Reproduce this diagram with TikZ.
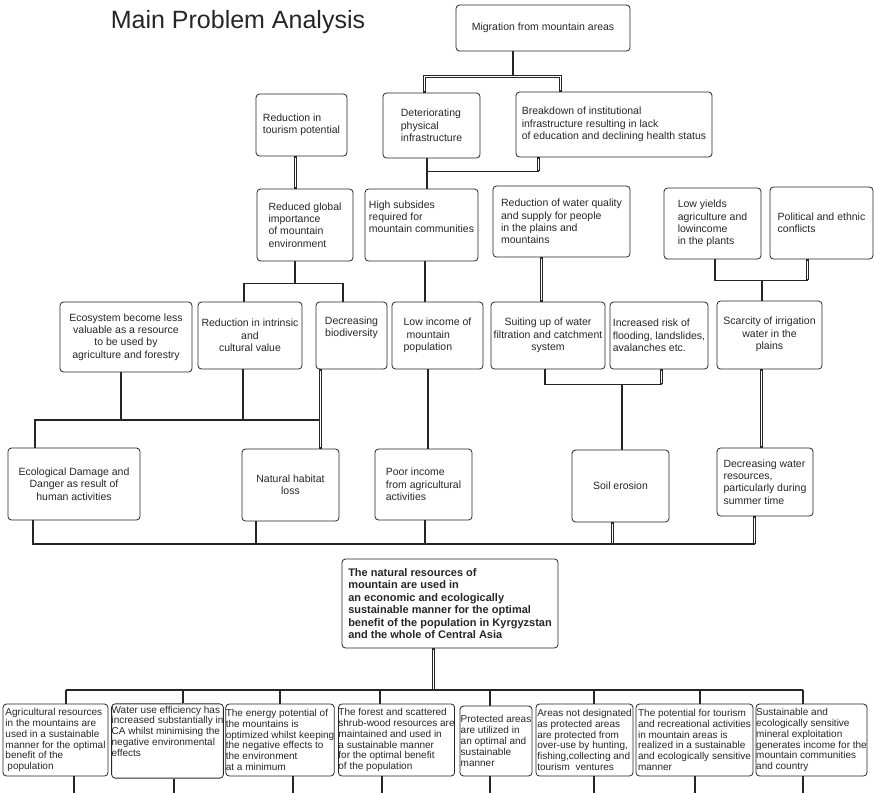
\documentclass[tikz,border=0pt]{standalone}
\usepackage{fontspec}
\setmainfont{Liberation Sans}
\definecolor{ink}{HTML}{262626}
\tikzset{
  box/.style={draw=ink, line width=0.8pt, rounded corners=3.5pt, inner xsep=0pt, inner ysep=2pt,
    text=ink, align=left, font=\fontsize{10.5}{12.3}\selectfont},
  cbox/.style={box, align=center},
  small/.style={box, font=\fontsize{10}{10.8}\selectfont},
  link/.style={draw=ink, line width=1.5pt},
  dbl/.style={draw=ink, line width=3pt,
    postaction={draw=white, line width=1pt, shorten <=1.5pt, shorten >=1.5pt}},
}
\begin{document}
\begin{tikzpicture}[x=1pt, y=-1pt]
\useasboundingbox (0,0) rectangle (874,793);

\node[anchor=base, text=ink, font=\fontsize{25}{28}\selectfont] (title) at (238,28) {Main Problem Analysis};

% problems
\node[box, minimum width=174, minimum height=46] (migr) at (543,28) {Migration from mountain areas};
\node[box, minimum width=91, minimum height=62] (tour) at (301.5,125) {Reduction in\\tourism potential};
\node[box, minimum width=97, minimum height=65] (deter) at (431.5,125.5) {Deteriorating\\physical\\infrastructure};
\node[box, minimum width=196, minimum height=65] (brk) at (614,124.5) {Breakdown of institutional\\infrastructure resulting in lack\\of education and declining health status};
\node[box, minimum width=96, minimum height=72] (redglob) at (305,225) {Reduced global\\importance\\of mountain\\environment};
\node[box, minimum width=113, minimum height=72] (subs) at (421.5,225) {High subsides\\required for\\mountain communities\\[4pt]};
\node[box, minimum width=137, minimum height=71] (water) at (561.5,221.5) {Reduction of water quality\\and supply for people\\in the plains and\\mountains};
\node[box, minimum width=97, minimum height=71] (yields) at (712.5,223.5) {Low yields\\agriculture and\\lowincome\\in the plants};
\node[box, minimum width=103, minimum height=72] (ethnic) at (821.5,223) {Political and ethnic\\conflicts};
\node[cbox, minimum width=132, minimum height=70] (ecosys) at (126,337) {Ecosystem become less\\valuable as a resource\\to be used by\\agriculture and forestry};
\node[cbox, minimum width=104, minimum height=67] (intrin) at (250,335.5) {Reduction in intrinsic\\and\\cultural value};
\node[cbox, minimum width=71, minimum height=67] (biodiv) at (351.5,335.5) {Decreasing\\biodiversity\\[6pt]};
\node[box, minimum width=91, minimum height=67] (lowinc) at (437.5,335.5) {Low income of\\\hspace{3pt}mountain\\population};
\node[cbox, minimum width=114, minimum height=67] (filt) at (548,335.5) {Suiting up of water\\filtration and catchment\\system};
\node[box, minimum width=98, minimum height=67] (flood) at (659,335.5) {Increased risk of\\flooding, landslides,\\avalanches etc.};
\node[cbox, minimum width=105, minimum height=68] (irrig) at (769.5,335) {\\[-6pt]Scarcity of irrigation\\water in the\\plains};
\node[cbox, minimum width=132, minimum height=72] (ecodam) at (74,484) {Ecological Damage and\\Danger as result of\\human activities};
\node[cbox, minimum width=97, minimum height=72] (habitat) at (290.5,485) {Natural habitat\\loss};
\node[box, minimum width=97, minimum height=71] (poor) at (423.5,484.5) {Poor income\\from agricultural\\activities};
\node[cbox, minimum width=97, minimum height=72] (soil) at (620.5,486) {Soil erosion};
\node[box, minimum width=96, minimum height=68] (decw) at (765,482) {Decreasing water\\resources,\\particularly during\\summer time};

% objective
\node[box, minimum width=216, minimum height=89, font=\fontsize{11}{12.4}\selectfont\bfseries] (goal) at (450,603.5)
  {The natural resources of\\mountain are used in\\an economic and ecologically\\sustainable manner for the optimal\\benefit of the population in Kyrgyzstan\\and the whole of Central Asia};

\node[small, minimum width=105, minimum height=72] (agri) at (55.5,740) {Agricultural resources\\in the mountains are\\used in a sustainable\\manner for the optimal\\benefit of the\\\hspace{2pt}population};
\node[small, minimum width=111, minimum height=70] (wuse) at (167.5,741) {Water use efficiency has\\increased substantially in\\CA whilst minimising the\\negative environmental\\effects\\[9pt]};
\node[small, minimum width=108, minimum height=72] (energy) at (280,740) {The energy potential of\\the mountains is\\optimized whilst keeping\\the negative effects to\\the environment\\at a minimum};
\node[small, minimum width=115, minimum height=72] (forest) at (396.5,740) {The forest and scattered\\shrub-wood resources are\\maintained and used in\\a sustainable manner\\for the optimal benefit\\of the population};
\node[small, minimum width=72, minimum height=70] (protect) at (496,741) {Protected areas\\are utilized in\\an optimal and\\sustainable\\manner};
\node[small, minimum width=97, minimum height=72] (nonprot) at (584.5,740) {Areas not designated\\as protected areas\\are protected from\\over-use by hunting,\\fishing,collecting and\\tourism~~ventures};
\node[small, minimum width=117, minimum height=72] (tourism) at (694.5,740) {The potential for tourism\\and recreational activities\\in mountain areas is\\realized in a sustainable\\and ecologically sensitive\\manner};
\node[small, minimum width=111, minimum height=72] (mineral) at (811.5,740) {Sustainable and\\ecologically sensitive\\mineral exploitation\\generates income for the\\mountain communities\\and country};

\coordinate (top) at (0,76.5);
\coordinate (mid) at (0,420);
\coordinate (base) at (0,544);
\coordinate (lvl) at (0,690);
\coordinate (floor) at (0,793);

% upper tree
\draw[link] ([xshift=-30]migr.south) -- ([xshift=-30]migr.south |- top);
\draw[dbl] ([xshift=-7]deter.north) -- ([xshift=-7]deter.north |- top) -| ([xshift=-53.5]brk.north);
\draw[link] ([xshift=-4.5]deter.south) -- ([xshift=-4.5]deter.south |- subs.north);
\draw[dbl] ([xshift=-75.5]brk.south) -- ++(0,14);
\draw[link] ([xshift=-75.5]brk.south) ++(0,14) -- ++(-111.5,0);
\draw[dbl] ([xshift=-6]tour.south) -- ([xshift=-6]tour.south |- redglob.north);
\draw[link] ([xshift=-10]redglob.south) -- ++(0,23);
\draw[link] ([xshift=-6]intrin.north) -- ++(0,-18) -| ([xshift=-8.5]biodiv.north);
\draw[link] ([xshift=3.5]subs.south) -- ([xshift=3.5]subs.south |- lowinc.north);
\draw[dbl] ([xshift=-20]water.south) -- ([xshift=-20]water.south |- filt.north);
\draw[link] ([xshift=2.5]yields.south) -- ++(0,21) -- ++(92.5,0);
\draw[dbl] ([xshift=-14]ethnic.south) -- ++(0,21);
\draw[link] ([xshift=-7.5]irrig.north) -- ++(0,-21);
\draw[link] ([xshift=-3]filt.south) -- ++(0,15) -- ++(116.5,0);
\draw[dbl] ([xshift=2.5]flood.south) -- ++(0,15);
\draw[link] ([xshift=1.5]soil.north) -- ++(0,-66);
\draw[dbl] ([xshift=-8]irrig.south) -- ([xshift=-8]irrig.south |- decw.north);

% left branch
\draw[link] ([xshift=-5]ecosys.south) -- ([xshift=-5]ecosys.south |- mid);
\draw[link] ([xshift=-7]intrin.south) -- ([xshift=-7]intrin.south |- mid);
\draw[link] ([xshift=-39]ecodam.north) -- ([xshift=-39]ecodam.north |- mid) -- ([xshift=-31]biodiv.south |- mid);
\draw[dbl] ([xshift=-31]biodiv.south) -- ([xshift=-31]biodiv.south |- habitat.north);
\draw[link] ([xshift=-9.5]lowinc.south) -- ([xshift=-9.5]lowinc.south |- poor.north);

% base line
\draw[link] ([xshift=-41]ecodam.south) -- ([xshift=-41]ecodam.south |- base) -- ([xshift=-10.5]decw.south |- base);
\draw[link] ([xshift=-34.5]habitat.south) -- ([xshift=-34.5]habitat.south |- base);
\draw[link] ([xshift=1.5]poor.south) -- ([xshift=1.5]poor.south |- base);
\draw[dbl] ([xshift=-8]soil.south) -- ([xshift=-8]soil.south |- base);
\draw[dbl] ([xshift=-10.5]decw.south) -- ([xshift=-10.5]decw.south |- base);

% objective tree
\draw[dbl] ([xshift=-16.5]goal.south) -- ([xshift=-16.5]goal.south |- lvl);
\draw[link] ([xshift=10.5]agri.north |- lvl) -- ([xshift=-8.5]mineral.north |- lvl);
\draw[link] ([xshift=10.5]agri.north) -- ([xshift=10.5]agri.north |- lvl);
\draw[link] ([xshift=15.5]wuse.north) -- ([xshift=15.5]wuse.north |- lvl);
\draw[link] (energy.north) -- (energy.north |- lvl);
\draw[link] ([xshift=-16.5]forest.north) -- ([xshift=-16.5]forest.north |- lvl);
\draw[link] ([xshift=-6]protect.north) -- ([xshift=-6]protect.north |- lvl);
\draw[link] ([xshift=9.5]nonprot.north) -- ([xshift=9.5]nonprot.north |- lvl);
\draw[link] ([xshift=5.5]tourism.north) -- ([xshift=5.5]tourism.north |- lvl);
\draw[link] ([xshift=-8.5]mineral.north) -- ([xshift=-8.5]mineral.north |- lvl);

\draw[link] ([xshift=18.5]agri.south) -- ([xshift=18.5]agri.south |- floor);
\draw[link] ([xshift=6.5]wuse.south) -- ([xshift=6.5]wuse.south |- floor);
\draw[link] ([xshift=13]energy.south) -- ([xshift=13]energy.south |- floor);
\draw[link] ([xshift=-14.5]forest.south) -- ([xshift=-14.5]forest.south |- floor);
\draw[link] ([xshift=-6]protect.south) -- ([xshift=-6]protect.south |- floor);
\draw[link] ([xshift=9.5]nonprot.south) -- ([xshift=9.5]nonprot.south |- floor);
\draw[link] ([xshift=0.5]tourism.south) -- ([xshift=0.5]tourism.south |- floor);
\draw[link] ([xshift=-8.5]mineral.south) -- ([xshift=-8.5]mineral.south |- floor);

\end{tikzpicture}
\end{document}
